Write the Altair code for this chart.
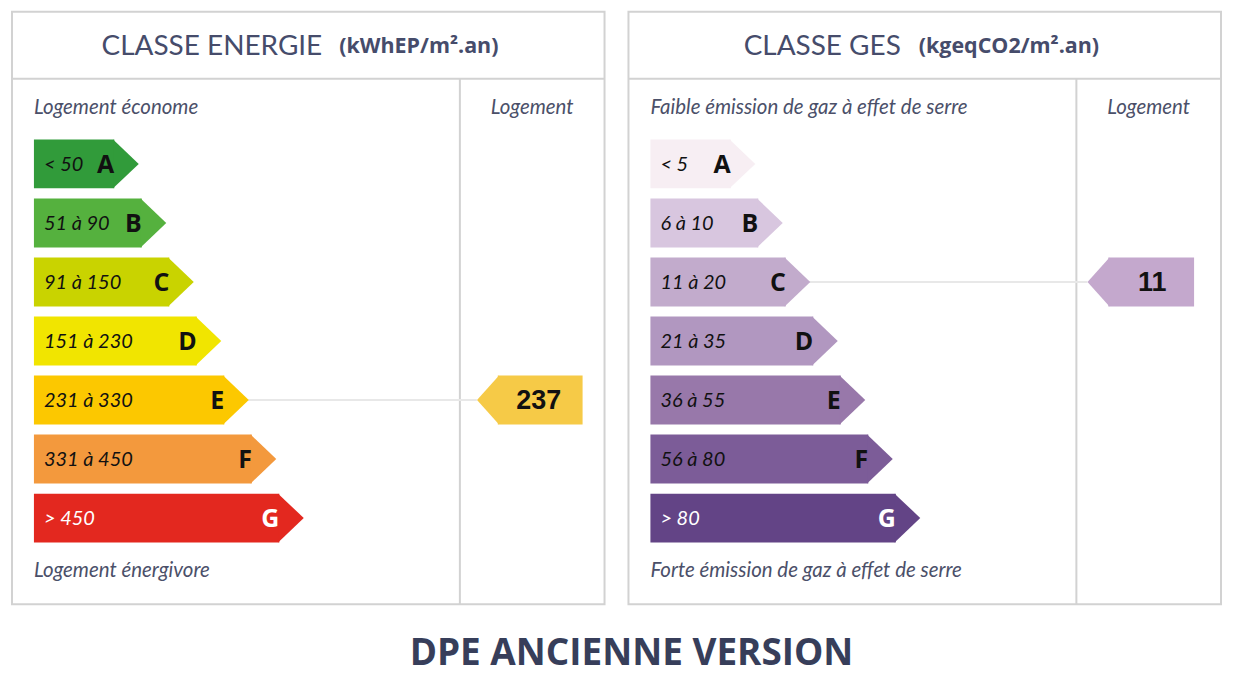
import altair as alt
import pandas as pd

classes = ["A", "B", "C", "D", "E", "F", "G"]
energy_ranges = ["< 50", "51 à 90", "91 à 150", "151 à 230", "231 à 330", "331 à 450", "> 450"]
ges_ranges = ["< 5", "6 à 10", "11 à 20", "21 à 35", "36 à 55", "56 à 80", "> 80"]
energy_colors = ["#319b3a", "#55b13e", "#c9d300", "#f1e500", "#fcc800", "#f3993d", "#e3281f"]
ges_colors = ["#f7eef3", "#d8c6df", "#c2abcc", "#b197c0", "#9878aa", "#7c5c98", "#634486"]
energy_value = 237
energy_class = "E"
ges_value = 11
ges_class = "C"

NAVY = "#464c6b"
LABEL = "#4b5069"
LINE = "#d2d2d2"
W = 594
H = 594


def panel(ranges, colors, value, vclass, ind_color, title, unit, title_right, unit_left,
          top_label, bottom_label, ind_x0, ind_x1, ind_center):
    df = pd.DataFrame({"cls": classes, "rank": list(range(1, 8)), "rng": ranges})
    ind = pd.DataFrame({"cls": [vclass], "rank": [classes.index(vclass) + 1], "val": [str(value)]})
    one = pd.DataFrame({"k": [0]})

    yscale = alt.Scale(domain=classes, range=[128, 532], paddingInner=0.172, paddingOuter=0)
    yenc = alt.Y("cls:N", scale=yscale, axis=None)
    yrule = alt.Y("cls:N", scale=yscale, axis=None, bandPosition=0.5)
    xenc = alt.X("rank:Q", scale=alt.Scale(domain=[0, 7], range=[75, 268]), axis=None)
    cenc = alt.Color("cls:N", scale=alt.Scale(domain=classes, range=colors), legend=None)
    txtcol = alt.when(alt.datum.cls == "G").then(alt.value("white")).otherwise(alt.value("#111111"))

    base_one = alt.Chart(one)
    hline = base_one.mark_rule(color=LINE, strokeWidth=2).encode(
        x=alt.value(0), x2=alt.value(W), y=alt.value(67))
    vline = base_one.mark_rule(color=LINE, strokeWidth=2).encode(
        x=alt.value(449), y=alt.value(67), y2=alt.value(H))

    connector = alt.Chart(ind).mark_rule(color="#e8e8e8", strokeWidth=2).encode(
        x=xenc, x2=alt.value(ind_x0 - 21), y=yrule)

    bars = alt.Chart(df).mark_rect().encode(x=xenc, x2=alt.value(22), y=yenc, color=cenc)
    tips = alt.Chart(df).mark_point(shape="M-0.05,-1L1,0L-0.05,1Z", size=2401, filled=True,
                                    opacity=1, strokeWidth=0).encode(x=xenc, y=yenc, color=cenc)
    rng_txt = alt.Chart(df).mark_text(align="left", baseline="middle", font="Lato",
                                      fontStyle="italic", fontSize=20, dy=1).encode(
        x=alt.value(32), y=yenc, text="rng:N", color=txtcol)
    letters = alt.Chart(df).mark_text(align="right", baseline="middle", dx=0, dy=1,
                                      font="Open Sans", fontWeight="bold", fontSize=25).encode(
        x=xenc, y=yenc, text="cls:N", color=txtcol)

    ind_bar = alt.Chart(ind).mark_bar(color=ind_color).encode(
        x=alt.value(ind_x0), x2=alt.value(ind_x1), y=yenc)
    ind_tip = alt.Chart(ind).mark_point(shape="M0.05,-1L-0.85,0L0.05,1Z", size=2401, filled=True,
                                        color=ind_color, opacity=1, strokeWidth=0).encode(
        x=alt.value(ind_x0), y=yenc)
    ind_txt = alt.Chart(ind).mark_text(font="Liberation Sans", fontWeight="bold", fontSize=27,
                                       color="#111111", baseline="middle", dy=1).encode(
        x=alt.value(ind_center), y=yenc, text="val:N")

    def label(txt, x, y, align="left", **kw):
        return alt.Chart(pd.DataFrame({"t": [txt]})).mark_text(
            align=align, baseline="middle", **kw).encode(
            x=alt.value(x), y=alt.value(y), text="t:N")

    head = label(title, title_right, 35, align="right", font="Lato", fontSize=28, color=NAVY)
    head_unit = label(unit, unit_left, 35, font="Open Sans", fontWeight="bold", fontSize=21.5,
                      color=NAVY)
    top_l = label(top_label, 22, 96, font="Lato", fontStyle="italic", fontSize=20.5, color=LABEL)
    top_r = label("Logement", 521.5, 96, align="center", font="Lato", fontStyle="italic",
                  fontSize=20.5, color=LABEL)
    bot_l = label(bottom_label, 22, 561, font="Lato", fontStyle="italic", fontSize=20.5, color=LABEL)

    return alt.layer(hline, vline, connector, bars, tips, rng_txt, letters,
                     ind_bar, ind_tip, ind_txt, head, head_unit, top_l, top_r, bot_l
                     ).properties(width=W, height=H)


left = panel(energy_ranges, energy_colors, energy_value, energy_class, "#f6ca47",
             "CLASSE ENERGIE", "(kWhEP/m².an)", 311, 328,
             "Logement économe", "Logement énergivore", 487, 572, 528)
right = panel(ges_ranges, ges_colors, ges_value, ges_class, "#c4a8cd",
              "CLASSE GES", "(kgeqCO2/m².an)", 273, 291,
              "Faible émission de gaz à effet de serre", "Forte émission de gaz à effet de serre",
              481, 567, 525)

chart = alt.hconcat(left, right, spacing=20).resolve_scale(
    x="independent", y="independent", color="independent"
).properties(
    title=alt.TitleParams("DPE ANCIENNE VERSION", orient="bottom", anchor="middle",
                          font="Open Sans", fontWeight="bold", fontSize=37, color="#373e5a",
                          offset=30, dx=15),
    padding={"left": 2, "top": 2, "right": 4, "bottom": 4},
).configure_view(stroke=LINE, strokeWidth=2)

chart.save("out.html", embed_options={"renderer": "svg", "actions": False})
